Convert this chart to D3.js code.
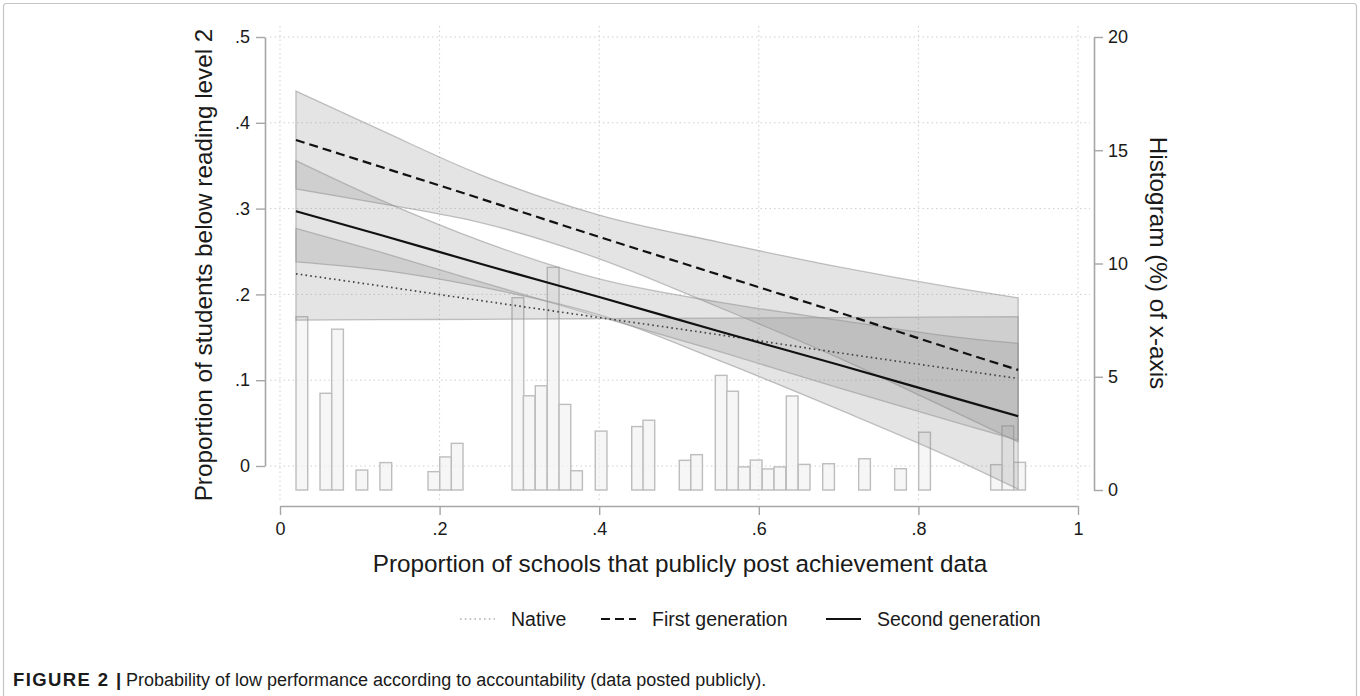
<!DOCTYPE html>
<html lang="en">
<head>
    <meta charset="UTF-8">
    <title>Figure 2</title>
    <script src="https://cdn.jsdelivr.net/npm/d3@7"></script>
    <style>
        html, body {
            margin: 0;
            padding: 0;
            width: 100%;
            height: 100%;
            overflow: hidden;
            background: #fff;
        }
        text {
            font-family: "Liberation Sans", Arial, sans-serif;
            fill: #1a1a1a;
        }
    </style>
</head>
<body>
</body>
<script>
    // x positions where the fitted lines were read
    let xPoints = [0.02, 0.125, 0.25, 0.4, 0.55, 0.7, 0.85, 0.925];

    // first generation: estimate and CI
    let firstEst = [0.380, 0.349, 0.312, 0.267, 0.223, 0.179, 0.134, 0.112];
    let firstHi  = [0.437, 0.392, 0.340, 0.2925, 0.261, 0.232, 0.207, 0.196];
    let firstLo  = [0.323, 0.306, 0.284, 0.2415, 0.185, 0.126, 0.061, 0.028];

    // second generation
    let secondEst = [0.297, 0.2695, 0.236, 0.197, 0.157, 0.118, 0.078, 0.058];
    let secondHi  = [0.356, 0.3105, 0.263, 0.218, 0.191, 0.170, 0.150, 0.143];
    let secondLo  = [0.238, 0.2285, 0.209, 0.176, 0.123, 0.066, 0.006, -0.027];

    // native (band edges cross near x = .4)
    let nativeEst   = [0.224, 0.210, 0.193, 0.173, 0.153, 0.132, 0.112, 0.102];
    let nativeEdgeA = [0.277, 0.2495, 0.215, 0.174, 0.1336, 0.091, 0.050, 0.030];
    let nativeEdgeB = [0.170, 0.1705, 0.171, 0.1717, 0.1724, 0.173, 0.1737, 0.174];

    // histogram of x (bin centres, percent)
    let binWidth = 0.0147;
    let binCenters = [0.0274, 0.0575, 0.0721, 0.1026, 0.1326, 0.1928, 0.2075, 0.2220, 0.2981, 0.3122,
        0.3273, 0.3423, 0.3570, 0.3716, 0.4024, 0.4481, 0.4622, 0.5077, 0.5220, 0.5528,
        0.5671, 0.5817, 0.5967, 0.6117, 0.6264, 0.6418, 0.6568, 0.6874, 0.7325, 0.7776,
        0.8077, 0.8979, 0.9121, 0.9268];
    let binPercent = [7.65, 4.27, 7.10, 0.88, 1.21, 0.81, 1.46, 2.06, 8.49, 4.16,
        4.60, 9.83, 3.78, 0.85, 2.60, 2.80, 3.08, 1.31, 1.56, 5.06,
        4.36, 1.02, 1.32, 0.93, 1.02, 4.15, 1.13, 1.16, 1.38, 0.94,
        2.55, 1.12, 2.83, 1.22];

    let xTicks = [0, 0.2, 0.4, 0.6, 0.8, 1];
    let yLeftTicks = [0, 0.1, 0.2, 0.3, 0.4, 0.5];
    let yRightTicks = [0, 5, 10, 15, 20];

    let legendLabels = ['Native', 'First generation', 'Second generation'];

    let width = 1360;
    let height = 696;

    let svg = d3.select('body').append('svg')
        .attr('width', width)
        .attr('height', height);

    // outer frame of the figure
    svg.append('rect')
        .attr('x', 3.5).attr('y', 3.5)
        .attr('width', width - 7).attr('height', height + 10)
        .attr('rx', 3)
        .attr('fill', 'none')
        .attr('stroke', '#c4c4c4')
        .attr('stroke-width', 1.2);

    let x = d3.scaleLinear().domain([0, 1]).range([280, 1078]);
    let yL = d3.scaleLinear().domain([0, 0.5]).range([466, 37]);
    let yR = d3.scaleLinear().domain([0, 20]).range([490, 37]);

    let fmt = d => d === 0 ? '0' : d3.format('~g')(d).replace(/^0\./, '.');

    // grid
    let grid = svg.append('g');
    grid.selectAll('line.h').data(yLeftTicks).enter().append('line')
        .attr('x1', 270).attr('x2', 1090)
        .attr('y1', d => yL(d)).attr('y2', d => yL(d))
        .attr('stroke', '#cfcfcf').attr('stroke-width', 1)
        .attr('stroke-dasharray', '1.5,3');
    grid.selectAll('line.v').data(xTicks).enter().append('line')
        .attr('x1', d => x(d)).attr('x2', d => x(d))
        .attr('y1', 26).attr('y2', 500)
        .attr('stroke', '#cfcfcf').attr('stroke-width', 1)
        .attr('stroke-dasharray', '1.5,3');

    // histogram
    let bw = x(binWidth) - x(0);
    svg.append('g').selectAll('rect')
        .data(binCenters)
        .enter().append('rect')
        .attr('x', d => x(d) - bw / 2)
        .attr('width', bw)
        .attr('y', (d, i) => yR(binPercent[i]))
        .attr('height', (d, i) => yR(0) - yR(binPercent[i]))
        .attr('fill', '#f2f2f2')
        .attr('fill-opacity', 0.7)
        .attr('stroke', '#bdbdbd')
        .attr('stroke-width', 1.4);

    // CI bands
    let band = (a, b) => d3.area()
        .x((d, i) => x(xPoints[i]))
        .y0((d, i) => yL(a[i]))
        .y1((d, i) => yL(b[i]))
        .curve(d3.curveMonotoneX)(xPoints);

    let bands = [[firstLo, firstHi], [secondLo, secondHi], [nativeEdgeB, nativeEdgeA]];
    svg.append('g').selectAll('path')
        .data(bands)
        .enter().append('path')
        .attr('d', d => band(d[0], d[1]))
        .attr('fill', '#8a8a8a')
        .attr('fill-opacity', 0.23)
        .attr('stroke', '#9a9a9a')
        .attr('stroke-opacity', 0.6)
        .attr('stroke-width', 1.3);

    // fitted lines
    let line = vals => d3.line()
        .x((d, i) => x(xPoints[i]))
        .y((d, i) => yL(vals[i]))
        .curve(d3.curveMonotoneX)(xPoints);

    let series = [
        {vals: nativeEst, dash: '1.6,3.2', color: '#444', w: 1.7},
        {vals: firstEst, dash: '9,5', color: '#111', w: 2.2},
        {vals: secondEst, dash: null, color: '#111', w: 2.2}
    ];
    svg.append('g').selectAll('path')
        .data(series)
        .enter().append('path')
        .attr('d', d => line(d.vals))
        .attr('fill', 'none')
        .attr('stroke', d => d.color)
        .attr('stroke-width', d => d.w)
        .attr('stroke-dasharray', d => d.dash);

    // axes
    let styleAxis = g => {
        g.select('.domain').attr('stroke', '#a6a6a6').attr('stroke-width', 1.6);
        g.selectAll('.tick line').attr('stroke', '#a6a6a6').attr('stroke-width', 1.4);
        g.selectAll('.tick text').attr('font-size', '18px').attr('fill', '#1a1a1a')
            .style('font-family', '"Liberation Sans", Arial, sans-serif');
    };

    svg.append('g')
        .attr('transform', 'translate(265,0)')
        .call(d3.axisLeft(yL).tickValues(yLeftTicks).tickFormat(fmt).tickSize(9).tickSizeOuter(0).tickPadding(6))
        .call(styleAxis);

    svg.append('g')
        .attr('transform', 'translate(1094,0)')
        .call(d3.axisRight(yR).tickValues(yRightTicks).tickSize(9).tickSizeOuter(0).tickPadding(5))
        .call(styleAxis);

    svg.append('g')
        .attr('transform', 'translate(0,506)')
        .call(d3.axisBottom(x).tickValues(xTicks).tickFormat(fmt).tickSize(9).tickSizeOuter(0).tickPadding(7))
        .call(styleAxis);

    // axis titles
    svg.append('text')
        .attr('transform', 'translate(212,265) rotate(-90)')
        .attr('text-anchor', 'middle')
        .attr('font-size', '24.3px')
        .text('Proportion of students below reading level 2');

    svg.append('text')
        .attr('transform', 'translate(1150,263) rotate(90)')
        .attr('text-anchor', 'middle')
        .attr('font-size', '24.3px')
        .text('Histogram (%) of x-axis');

    svg.append('text')
        .attr('x', 680).attr('y', 572)
        .attr('text-anchor', 'middle')
        .attr('font-size', '24.3px')
        .text('Proportion of schools that publicly post achievement data');

    // legend
    let legendX = [460, 601, 826];
    let legend = svg.append('g').selectAll('g')
        .data(legendLabels)
        .enter().append('g')
        .attr('transform', (d, i) => `translate(${legendX[i]},619)`);
    legend.append('line')
        .attr('x1', 0).attr('x2', 35)
        .attr('stroke', (d, i) => i === 0 ? '#888' : '#111')
        .attr('stroke-width', (d, i) => i === 0 ? 1.2 : 2.2)
        .attr('stroke-dasharray', (d, i) => series[i].dash);
    legend.append('text')
        .attr('x', 51).attr('y', 7)
        .attr('font-size', '19.5px')
        .text(d => d);

    // caption
    svg.append('text')
        .attr('x', 13).attr('y', 686)
        .attr('font-size', '18.5px')
        .attr('font-weight', 'bold')
        .attr('letter-spacing', '1.4px')
        .text('FIGURE 2 |');
    svg.append('text')
        .attr('x', 126).attr('y', 686)
        .attr('font-size', '18px')
        .attr('fill', '#333')
        .text('Probability of low performance according to accountability (data posted publicly).');
</script>
</html>
